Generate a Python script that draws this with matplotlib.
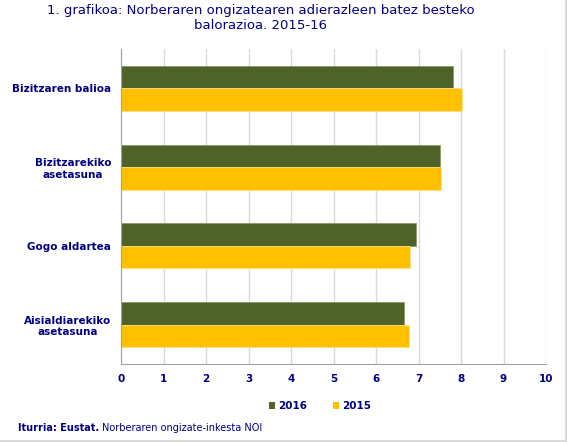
import matplotlib
matplotlib.use("Agg")
import matplotlib.pyplot as plt
import numpy as np
from matplotlib.patches import Patch
from matplotlib.lines import Line2D

categories = ["Bizitzaren balioa", "Bizitzarekiko\nasetasuna", "Gogo aldartea", "Aisialdiarekiko\nasetasuna"]
values_2016 = [7.81, 7.51, 6.94, 6.66]
values_2015 = [8.03, 7.53, 6.80, 6.77]
series_labels = ["2016", "2015"]
xticks = list(range(0, 11))

navy = "#000080"
c2016 = "#4F6228"
c2015 = "#FFC000"

plt.rcParams['font.family'] = ['DejaVu Sans']

fig = plt.figure(figsize=(5.67, 4.43), dpi=100)
ax = fig.add_axes([121/567, 1-364/443, (546-121)/567, (364-49)/443])

y = np.arange(len(categories))
h = 0.286
ax.barh(y - h/2, values_2016, height=h, color=c2016, edgecolor="#8a9a6a", linewidth=0.6, zorder=3)
ax.barh(y + h/2, values_2015, height=h, color=c2015, edgecolor="#FFE080", linewidth=0.6, zorder=3)

ax.set_xlim(0, 10)
ax.set_ylim(len(categories) - 0.5, -0.5)
ax.set_xticks(xticks)
ax.set_xticklabels([str(t) for t in xticks], color=navy, fontsize=7.5, fontweight="bold")
ax.set_yticks(y)
ax.set_yticklabels(categories, color=navy, fontsize=7.5, fontweight="bold", ha="right", multialignment="center")
ax.tick_params(axis="y", length=0, pad=7)
ax.tick_params(axis="x", length=0, pad=7)
ax.grid(axis="x", color="#D9D9D9", linewidth=1, zorder=0)
for s in ["top", "right"]:
    ax.spines[s].set_visible(False)
ax.spines["left"].set_color("#A0A0A0")
ax.spines["bottom"].set_color("#A0A0A0")
ax.spines["left"].set_zorder(4)

fig.text(261/567, 1-18/443, "1. grafikoa: Norberaren ongizatearen adierazleen batez besteko\nbalorazioa. 2015-16",
         ha="center", va="center", color=navy, fontsize=9.5, linespacing=1.15)

handles = [Patch(facecolor=c2016), Patch(facecolor=c2015)]
fig.legend(handles, series_labels, loc="center", bbox_to_anchor=(320/567, 1-406/443), ncol=2,
           frameon=False, prop={"weight": "bold", "size": 7.5}, labelcolor=navy,
           handlelength=0.6, handleheight=0.6, handletextpad=0.3, columnspacing=2.5)

t1 = fig.text(18/567, 1-428/443, "Iturria: Eustat.", ha="left", va="center", color=navy, fontsize=7, fontweight="bold")
fig.canvas.draw()
bb = t1.get_window_extent()
fig.text((bb.x1 + 3)/567, 1-428/443, "Norberaren ongizate-inkesta NOI", ha="left", va="center", color=navy, fontsize=7)

# figure border (right and bottom visible)
fig.lines.append(Line2D([565.5/567, 565.5/567], [2.5/443, 1], transform=fig.transFigure, color="#D9D9D9", linewidth=1.5))
fig.lines.append(Line2D([0, 565.5/567], [2.5/443, 2.5/443], transform=fig.transFigure, color="#D9D9D9", linewidth=1.5))

fig.savefig("out.png", dpi=100)
